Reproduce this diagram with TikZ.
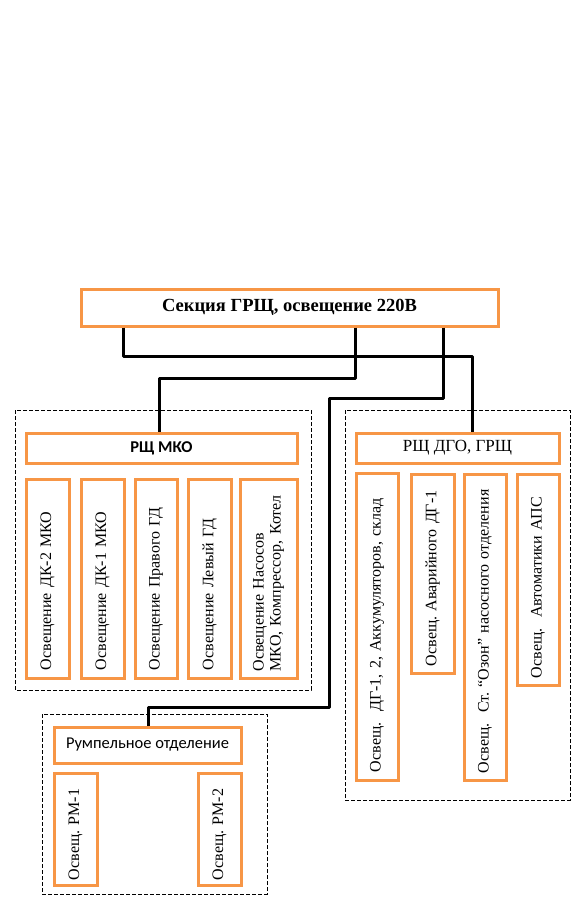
\documentclass[tikz,border=0pt]{standalone}
\usepackage{fontspec}
\setmainfont{Liberation Serif}
\newfontfamily\calibri{Carlito}
\usetikzlibrary{positioning}
\frenchspacing

\definecolor{boxorange}{HTML}{F79646}

\tikzset{
  obox/.style={draw=boxorange, line width=3pt, fill=white, inner sep=0pt},
  rib/.style={obox, rotate=90, align=left, font=\fontsize{16}{17}\selectfont},
  group/.style={draw, dashed, dash pattern=on 4pt off 2pt, line width=0.9pt},
  wire/.style={line width=3pt, line join=round}
}

\begin{document}
\begin{tikzpicture}[x=1pt, y=-1pt]
      \useasboundingbox (0,0) rectangle (576,897);

      % dashed groups
      \draw[group] (15,410) rectangle (311,690);
      \draw[group] (345,410) rectangle (570,800);
      \draw[group] (42,714) rectangle (267,894);

      % main board
      \node[obox, minimum width=417pt, minimum height=37pt, font=\fontsize{18.5}{20}\selectfont\bfseries]
        (grsh) at (289.5,307.5) { Секция ГРЩ, освещение 220В };

      % MKO
      \node[obox, minimum width=271pt, minimum height=30pt, font=\calibri\fontsize{16.5}{18}\selectfont\bfseries]
        (mko) at (161.5,448) { РЩ МКО };
      \node[rib, minimum width=199pt, minimum height=43pt, text width=183pt] (m1) at (47.5,578.5) { Освещение ДК-2 МКО };
      \node[rib, minimum width=199pt, minimum height=43pt, text width=183pt] (m2) at (102.5,578.5) { Освещение ДК-1 МКО };
      \node[rib, minimum width=199pt, minimum height=42pt, text width=183pt] (m3) at (156,578.5) { Освещение Правого ГД };
      \node[rib, minimum width=199pt, minimum height=43pt, text width=183pt] (m4) at (209.5,578.5) { Освещение Левый ГД };
      \node[rib, minimum width=199pt, minimum height=57pt, text width=186pt] (m5) at (268.5,578.5) { Освещение Насосов\\ МКО, Компрессор, Котел };

      % DGO
      \node[obox, minimum width=203pt, minimum height=30pt, font=\fontsize{17}{19}\selectfont]
        (dgo) at (457.5,448) { РЩ ДГО, ГРЩ };
      \node[rib, minimum width=307pt, minimum height=42pt, text width=291pt] (d1) at (377,626.5) { Освещ.~~ДГ-1, 2, Аккумуляторов, склад };
      \node[rib, minimum width=199pt, minimum height=43pt, text width=185pt] (d2) at (432.5,573.5) { Освещ. Аварийного ДГ-1 };
      \node[rib, minimum width=306pt, minimum height=42pt, text width=292pt] (d3) at (485,627) { Освещ.~~Ст. “Озон” насосного отделения };
      \node[rib, minimum width=211pt, minimum height=42pt, text width=197pt] (d4) at (538,579.5) { Освещ.~~Автоматики АПС };

      % steering gear room
      \node[obox, minimum width=187pt, minimum height=36pt, font=\calibri\fontsize{16.5}{18}\selectfont]
        (rump) at (147.5,745) { Румпельное отделение };
      \node[rib, minimum width=112pt, minimum height=43pt, text width=102pt] (r1) at (75.5,829) { Освещ. РМ-1 };
      \node[rib, minimum width=112pt, minimum height=43pt, text width=102pt] (r2) at (219.5,829) { Освещ. РМ-2 };

      % feeders
      \draw[wire] (grsh.south -| 123,0) |- (472,356) -- (dgo.north -| 472,0);
      \draw[wire] (grsh.south -| 355,0) |- (159,378) -- (mko.north -| 159,0);
      \draw[wire] (grsh.south -| 443,0) |- (329,398) |- (148,707) -- (rump.north -| 148,0);
\end{tikzpicture}
\end{document}
